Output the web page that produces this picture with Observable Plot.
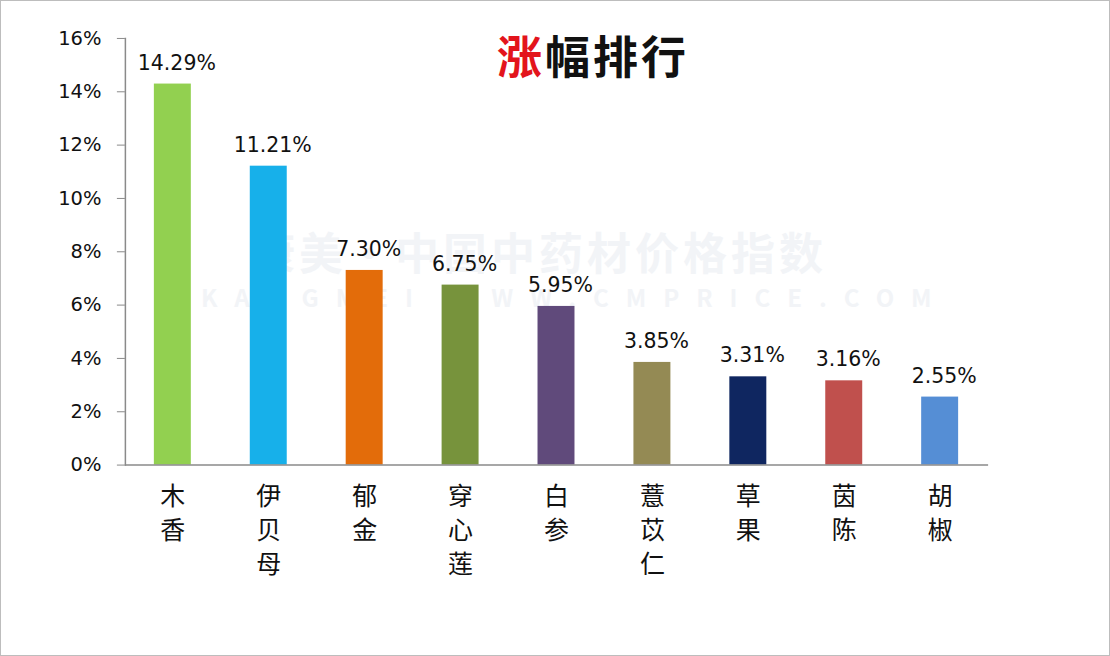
<!DOCTYPE html>
<html><head><meta charset="utf-8">
<script src="https://cdn.jsdelivr.net/npm/d3@7"></script>
<script src="https://cdn.jsdelivr.net/npm/@observablehq/plot@0.6"></script>
<style>
html,body{margin:0;padding:0;background:#fff;}
#wrap{position:relative;width:1110px;height:656px;box-sizing:border-box;border:1px solid #bdbdbd;overflow:hidden;background:#fff;}
#chart{position:absolute;left:-1px;top:-1px;}
#title{position:absolute;left:0;width:1184px;top:24px;text-align:center;font-family:"Noto Sans CJK SC",sans-serif;font-weight:700;font-size:45px;line-height:60px;color:#111;letter-spacing:3px;}
#title span{color:#e3141c;}
.wm{position:absolute;font-family:"Noto Sans CJK SC",sans-serif;color:#f2f4f7;font-weight:700;white-space:nowrap;}
</style></head>
<body>
<div id="wrap">
  <div class="wm" style="left:250px;top:218px;font-size:44px;letter-spacing:4px;">康美·中国中药材价格指数</div>
  <div class="wm" style="left:200px;top:278px;font-size:24px;letter-spacing:17px;">KANGMEI WWW.CMPRICE.COM</div>
  <div id="chart"></div>
  <div id="title"><span>涨</span>幅排行</div>
</div>
<script>
const categories = ["木香","伊贝母","郁金","穿心莲","白参","薏苡仁","草果","茵陈","胡椒"];
const values = [14.29, 11.21, 7.30, 6.75, 5.95, 3.85, 3.31, 3.16, 2.55];
const colors = ["#92d050","#17b0ea","#e36c0a","#77933c","#604a7b","#948a54","#0f2660","#c0504d","#558ed5"];
const yTicks = [0,2,4,6,8,10,12,14,16];

const data = categories.map((name, i) => ({name, value: values[i]}));

const chart = Plot.plot({
  width: 1110,
  height: 656,
  marginTop: 38,
  marginBottom: 191,
  marginLeft: 125,
  marginRight: 121,
  style: {background: "transparent", overflow: "visible"},
  x: {domain: categories, paddingInner: 0.61, paddingOuter: 0.305, label: null},
  y: {domain: [0, 16], label: null},
  color: {domain: categories, range: colors},
  marks: [
    Plot.barY(data, {x: "name", y: "value", fill: "name"}),
    Plot.ruleY([0], {stroke: "#8a8a8a", strokeWidth: 1.5}),
    Plot.frame({anchor: "left", stroke: "#8a8a8a", strokeWidth: 1.5}),
    Plot.axisY({ticks: yTicks, tickFormat: d => d + "%", tickSize: 8, tickPadding: 16,
      stroke: "#8a8a8a", fill: "#111", fontSize: 19.5, fontFamily: "DejaVu Sans", label: null}),
    Plot.axisX({tickSize: 0, tickPadding: 15, tickFormat: d => d.split("").join("\n"),
      fontSize: 25, lineHeight: 1.38, fill: "#111", fontFamily: "Noto Sans CJK SC", label: null}),
    Plot.text(data, {x: "name", y: "value", text: d => d.value.toFixed(2) + "%", dy: -21,
      fontSize: 20.5, fill: "#111", fontFamily: "DejaVu Sans", dx: 4})
  ]
});
document.getElementById("chart").appendChild(chart);
</script>
</body></html>
